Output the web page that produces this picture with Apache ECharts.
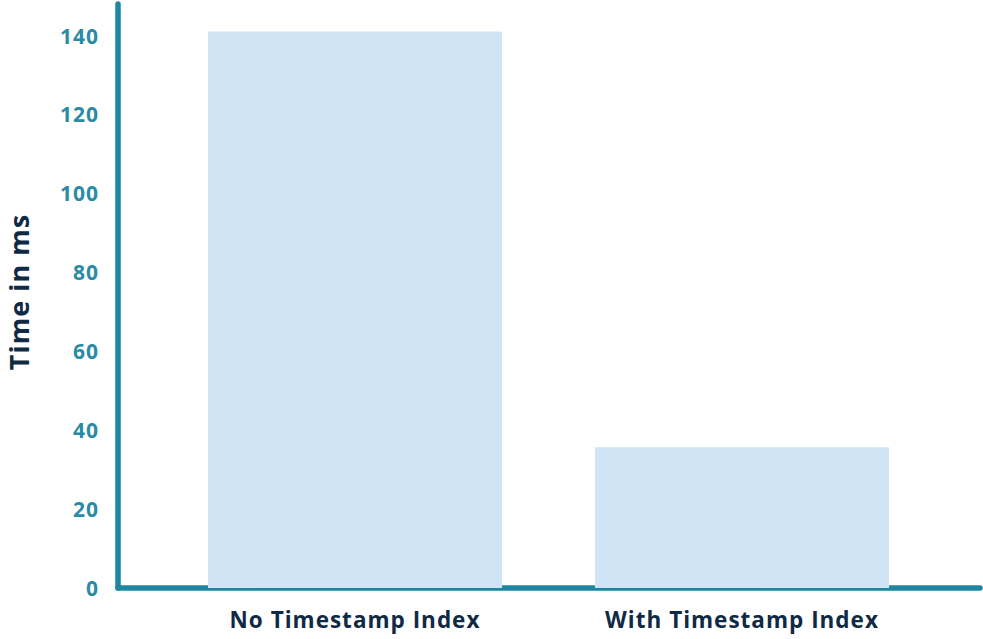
<!DOCTYPE html>
<html>
<head>
<meta charset="utf-8">
<script src="https://cdn.jsdelivr.net/npm/echarts@6/dist/echarts.min.js"></script>
<style>
html,body{margin:0;padding:0;background:#fff;}
#chart{width:983px;height:639px;}
#chart svg text{letter-spacing:1px;}
</style>
</head>
<body>
<div id="chart"></div>
<script>
const categories = ['No Timestamp Index', 'With Timestamp Index'];
const timeMs = [141, 35.7];
const yAxisTitle = 'Time in ms';
const yMin = 0, yMax = 148, yStep = 20;

const AXIS = '#1d87a1';
const TICK = '#2a8ba5';
const NAVY = '#102a45';
const BAR = '#cfe4f4';
const FONT = 'Open Sans';

const chart = echarts.init(document.getElementById('chart'), null, {renderer: 'svg'});
chart.setOption({
  animation: false,
  backgroundColor: '#fff',
  grid: [
    {left: 118, right: 3, top: 4, bottom: 51, containLabel: false, outerBoundsMode: 'none'},
    {left: 161.5, right: 47.5, top: 4, bottom: 51, containLabel: false, outerBoundsMode: 'none'}
  ],
  xAxis: [
    {
      gridIndex: 0, type: 'value', min: 0, max: 1,
      axisLine: {show: true, onZero: false, lineStyle: {color: AXIS, width: 5.5, cap: 'round'}},
      axisTick: {show: false}, axisLabel: {show: false}, splitLine: {show: false}
    },
    {
      gridIndex: 1, type: 'category', data: categories,
      axisLine: {show: false}, axisTick: {show: false}, splitLine: {show: false},
      axisLabel: {color: NAVY, fontFamily: FONT, fontWeight: 'bold', fontSize: 22.5, margin: 20}
    }
  ],
  yAxis: [
    {
      gridIndex: 0, type: 'value', min: yMin, max: yMax, interval: yStep,
      axisLine: {show: true, lineStyle: {color: AXIS, width: 5.5, cap: 'round'}},
      axisTick: {show: false}, splitLine: {show: false},
      axisLabel: {color: TICK, fontFamily: FONT, fontWeight: 'bold', fontSize: 21, margin: 19,
        padding: [0, 0, 4, 0],
        formatter: v => (v % yStep === 0 ? String(v) : '')},
      name: yAxisTitle, nameLocation: 'middle', nameGap: 86, nameRotate: 90,
      nameTextStyle: {color: NAVY, fontFamily: FONT, fontWeight: 'bold', fontSize: 27, padding: [0, 0, 0, 8]}
    },
    {
      gridIndex: 1, type: 'value', min: yMin, max: yMax,
      axisLine: {show: false}, axisTick: {show: false}, axisLabel: {show: false}, splitLine: {show: false}
    }
  ],
  series: [{
    type: 'bar', xAxisIndex: 1, yAxisIndex: 1,
    data: timeMs, barWidth: '76%', z: 1,
    itemStyle: {color: BAR}
  }]
});
</script>
</body>
</html>
